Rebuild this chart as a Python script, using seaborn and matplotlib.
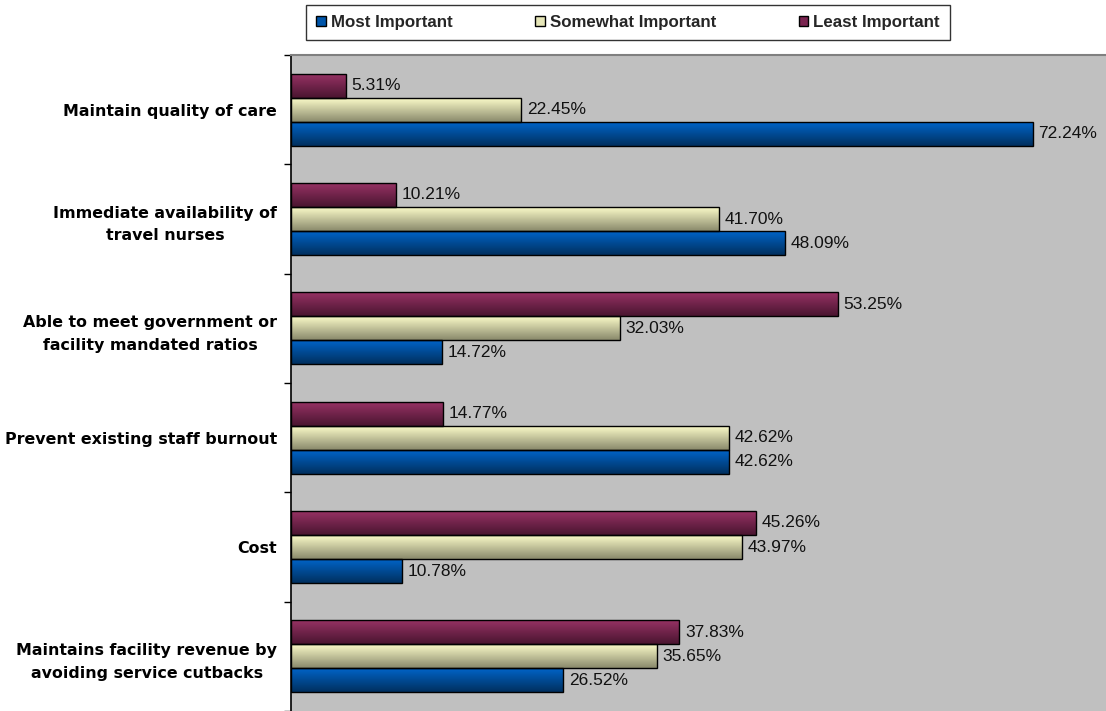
import numpy as np
import pandas as pd
import matplotlib
matplotlib.use("Agg")
import matplotlib.pyplot as plt
from matplotlib.colors import LinearSegmentedColormap
from matplotlib.patches import Patch
import seaborn as sns

# Survey results: importance of each factor (% of respondents)
factors = [
    "Maintain quality of care",
    "Immediate availability of\ntravel nurses",
    "Able to meet government or\nfacility mandated ratios",
    "Prevent existing staff burnout",
    "Cost",
    "Maintains facility revenue by\navoiding service cutbacks",
]
most_important = [72.24, 48.09, 14.72, 42.62, 10.78, 26.52]
somewhat_important = [22.45, 41.70, 32.03, 42.62, 43.97, 35.65]
least_important = [5.31, 10.21, 53.25, 14.77, 45.26, 37.83]

levels = ["Most Important", "Somewhat Important", "Least Important"]

df = pd.DataFrame({
    "factor": factors * 3,
    "value": most_important + somewhat_important + least_important,
    "level": [levels[0]] * 6 + [levels[1]] * 6 + [levels[2]] * 6,
})

# (top colour, bottom colour) for the shaded bars
shades = {
    "Most Important": ("#0066CC", "#00305F"),
    "Somewhat Important": ("#FFFFCC", "#8A8A6C"),
    "Least Important": ("#993366", "#4A1530"),
}
flat = {"Most Important": "#0055AA", "Somewhat Important": "#E6E6B8",
        "Least Important": "#7A2450"}

sns.set_theme(style="white")
plt.rcParams["font.family"] = ["Liberation Sans", "DejaVu Sans"]
bold_font = {"family": "DejaVu Sans", "weight": "bold"}

W, H = 1106, 711
fig = plt.figure(figsize=(W / 100, H / 100), dpi=100)
left_px, top_px = 291, 55
ax = fig.add_axes([left_px / W, 0, 1 - left_px / W, 1 - top_px / H])
ax.set_facecolor("#C0C0C0")

draw_order = ["Least Important", "Somewhat Important", "Most Important"]
sns.barplot(data=df, y="factor", x="value", hue="level", hue_order=draw_order,
            order=factors, orient="h", width=0.66, dodge=True,
            palette=flat, edgecolor="black", linewidth=1.0,
            legend=False, ax=ax, errorbar=None)

units_per_px = 1 / 110.0
ymax = -0.5 + (H - top_px) * units_per_px
xmax = (W - left_px) / 10.267

# vertical gradient fill for each bar, clipped to the bar outline
grad = np.linspace(0, 1, 64).reshape(-1, 1)
for cont, lvl in zip(ax.containers, draw_order):
    cmap = LinearSegmentedColormap.from_list(lvl, list(shades[lvl]))
    for bar in cont:
        x0, y0 = bar.get_x(), bar.get_y()
        w, h = bar.get_width(), bar.get_height()
        im = ax.imshow(grad, cmap=cmap, aspect="auto", interpolation="bilinear",
                       extent=(x0, x0 + w, y0 + h, y0), zorder=bar.get_zorder() - 0.1)
        im.set_clip_path(bar)
        bar.set_facecolor("none")
    ax.bar_label(cont, fmt="%.2f%%", padding=4, fontsize=12.5, color="#111111")

ax.set_xlim(0, xmax)
ax.set_ylim(ymax, -0.5)

# axes styling
ax.set_xlabel("")
ax.set_ylabel("")
ax.set_xticks([])
ax.set_yticks(range(len(factors)))
ax.set_yticklabels(factors, fontsize=11.4, color="black", linespacing=1.65,
                   **bold_font)
for lab in ax.get_yticklabels():
    lab.set_multialignment("center")
ax.set_yticks(np.arange(-0.5, len(factors), 1.0), minor=True)
ax.tick_params(axis="y", which="major", length=0, pad=10)
ax.tick_params(axis="y", which="minor", length=5, width=1, color="black",
               direction="out", left=True)
for side in ("right", "bottom"):
    ax.spines[side].set_visible(False)
ax.spines["left"].set_color("black")
ax.spines["left"].set_linewidth(1.2)
ax.spines["top"].set_color("#808080")
ax.spines["top"].set_linewidth(1.5)

handles = [Patch(facecolor=flat[l], edgecolor="black", linewidth=1.0, label=l)
           for l in levels]
leg = fig.legend(handles=handles, loc="center", ncol=3,
                 bbox_to_anchor=(628 / W, 1 - 22.5 / H),
                 frameon=True, fancybox=False, shadow=False,
                 prop={"family": "Liberation Sans", "weight": "bold", "size": 12.2},
                 handlelength=0.55, handleheight=0.55, handletextpad=0.3,
                 columnspacing=4.9, borderpad=0.58, borderaxespad=0)
leg.get_frame().set_edgecolor("black")
leg.get_frame().set_linewidth(1.0)

fig.savefig("out.png", dpi=100, facecolor="white")
